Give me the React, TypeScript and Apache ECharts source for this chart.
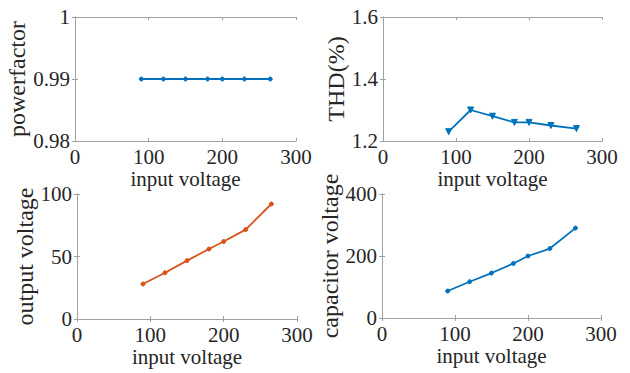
import React, { useEffect, useRef } from "react";
import * as echarts from "echarts";

const inputVoltage = [90, 120, 150, 180, 200, 230, 265];
const powerFactor = [0.99, 0.99, 0.99, 0.99, 0.99, 0.99, 0.99];
const thd = [1.23, 1.3, 1.28, 1.26, 1.26, 1.25, 1.24];
const outputVoltage = [28, 37, 46.7, 56, 62, 71.5, 92];
const capacitorVoltage = [87, 117, 145, 176, 200, 224, 290];

const BLUE = "#0072BD";
const ORANGE = "#D95319";
const FONT = "'Liberation Serif', 'Times New Roman', serif";
const TEXT = "#262626";
const BOX = "#a0a0a0";

const pairs = (ys: number[]) => inputVoltage.map((x, i) => [x, ys[i]]);

export default function App() {
  const ref = useRef<HTMLDivElement>(null);
  useEffect(() => {
    if (!ref.current) return;
    const chart = echarts.init(ref.current, undefined, { renderer: "svg" });
    const grids = [
      { left: 75, top: 17, width: 221, height: 124 },
      { left: 383, top: 17, width: 219, height: 124 },
      { left: 77, top: 194, width: 220, height: 125 },
      { left: 382, top: 194, width: 219, height: 124 },
    ];
    const yCfg = [
      { name: "powerfactor", min: 0.98, max: 1, interval: 0.01, gap: 42 },
      { name: "THD(%)", min: 1.2, max: 1.6, interval: 0.2, gap: 28 },
      { name: "output voltage", min: 0, max: 100, interval: 50, gap: 34 },
      { name: "capacitor voltage", min: 0, max: 400, interval: 200, gap: 40 },
    ];
    const xAxis: any[] = [];
    const yAxis: any[] = [];
    grids.forEach((_, i) => {
      xAxis.push({
        type: "value",
        gridIndex: i,
        min: 0,
        max: 300,
        interval: 100,
        name: "input voltage",
        nameLocation: "middle",
        nameGap: 27,
        nameTextStyle: { fontFamily: FONT, fontSize: 21, color: TEXT },
        axisLine: { show: true, lineStyle: { color: BOX } },
        axisTick: { show: true, inside: true, length: 3, lineStyle: { color: BOX } },
        axisLabel: { fontFamily: FONT, fontSize: 21, color: TEXT, margin: 5 },
        splitLine: { show: false },
      });
      xAxis.push({
        type: "value",
        gridIndex: i,
        position: "top",
        min: 0,
        max: 300,
        interval: 100,
        axisLine: { show: true, lineStyle: { color: BOX } },
        axisTick: { show: true, inside: true, length: 3, lineStyle: { color: BOX } },
        axisLabel: { show: false },
        splitLine: { show: false },
      });
      const c = yCfg[i];
      yAxis.push({
        type: "value",
        gridIndex: i,
        min: c.min,
        max: c.max,
        interval: c.interval,
        name: c.name,
        nameLocation: "middle",
        nameGap: c.gap,
        nameRotate: 90,
        nameTextStyle: { fontFamily: FONT, fontSize: 24, color: TEXT },
        axisLine: { show: true, lineStyle: { color: BOX } },
        axisTick: { show: true, inside: true, length: 3, lineStyle: { color: BOX } },
        axisLabel: { fontFamily: FONT, fontSize: 21, color: TEXT, margin: 5 },
        splitLine: { show: false },
      });
      yAxis.push({
        type: "value",
        gridIndex: i,
        position: "right",
        min: c.min,
        max: c.max,
        interval: c.interval,
        axisLine: { show: true, lineStyle: { color: BOX } },
        axisTick: { show: true, inside: true, length: 3, lineStyle: { color: BOX } },
        axisLabel: { show: false },
        splitLine: { show: false },
      });
    });
    const mk = (i: number, ys: number[], color: string, symbol: string, size: number, rot = 0) => ({
      type: "line",
      xAxisIndex: i * 2,
      yAxisIndex: i * 2,
      data: pairs(ys),
      symbol,
      symbolSize: size,
      symbolRotate: rot,
      showSymbol: true,
      lineStyle: { color, width: 1.8 },
      itemStyle: { color, borderColor: color },
    });
    chart.setOption({
      animation: false,
      backgroundColor: "#ffffff",
      grid: grids,
      xAxis,
      yAxis,
      series: [
        mk(0, powerFactor, BLUE, "circle", 4),
        mk(1, thd, BLUE, "triangle", 6, 180),
        mk(2, outputVoltage, ORANGE, "circle", 4),
        mk(3, capacitorVoltage, BLUE, "circle", 4),
      ],
    });
    return () => chart.dispose();
  }, []);
  return (
    <div
      ref={ref}
      style={{ position: "fixed", left: 0, top: 0, width: 630, height: 373, background: "#fff" }}
    />
  );
}
